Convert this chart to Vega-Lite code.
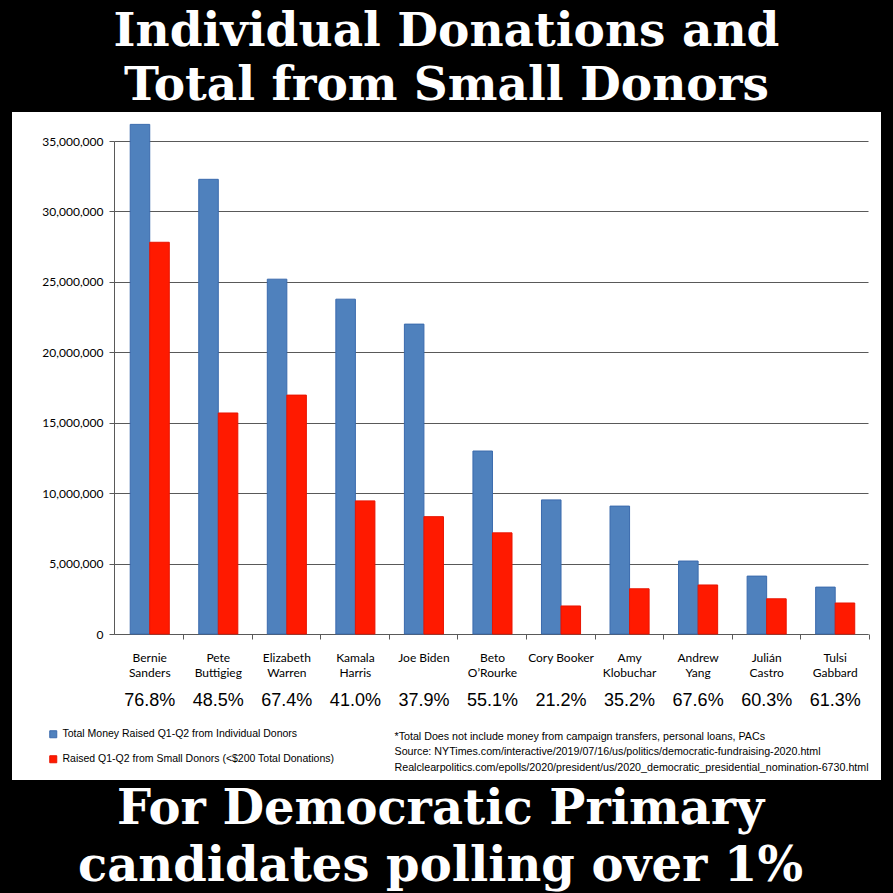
{
  "$schema": "https://vega.github.io/schema/vega-lite/v6.json",
  "width": 869,
  "height": 668,
  "autosize": {"type": "none"},
  "padding": {"left": 12, "top": 112, "right": 12, "bottom": 113},
  "background": "black",
  "config": {"view": {"fill": "white", "stroke": null}},
  "title": {
    "text": ["Individual Donations and", "Total from Small Donors"],
    "color": "white",
    "font": "DejaVu Serif",
    "fontWeight": "bold",
    "fontSize": 47,
    "lineHeight": 54,
    "anchor": "middle",
    "frame": "group",
    "offset": 2
  },
  "datasets": {
    "bars": [
      {"candidate": "Bernie Sanders", "series": "Total Money Raised Q1-Q2 from Individual Donors", "amount": 36180000},
      {"candidate": "Bernie Sanders", "series": "Raised Q1-Q2 from Small Donors (<$200 Total Donations)", "amount": 27810000},
      {"candidate": "Pete Buttigieg", "series": "Total Money Raised Q1-Q2 from Individual Donors", "amount": 32280000},
      {"candidate": "Pete Buttigieg", "series": "Raised Q1-Q2 from Small Donors (<$200 Total Donations)", "amount": 15690000},
      {"candidate": "Elizabeth Warren", "series": "Total Money Raised Q1-Q2 from Individual Donors", "amount": 25190000},
      {"candidate": "Elizabeth Warren", "series": "Raised Q1-Q2 from Small Donors (<$200 Total Donations)", "amount": 16960000},
      {"candidate": "Kamala Harris", "series": "Total Money Raised Q1-Q2 from Individual Donors", "amount": 23770000},
      {"candidate": "Kamala Harris", "series": "Raised Q1-Q2 from Small Donors (<$200 Total Donations)", "amount": 9450000},
      {"candidate": "Joe Biden", "series": "Total Money Raised Q1-Q2 from Individual Donors", "amount": 22000000},
      {"candidate": "Joe Biden", "series": "Raised Q1-Q2 from Small Donors (<$200 Total Donations)", "amount": 8330000},
      {"candidate": "Beto O’Rourke", "series": "Total Money Raised Q1-Q2 from Individual Donors", "amount": 12990000},
      {"candidate": "Beto O’Rourke", "series": "Raised Q1-Q2 from Small Donors (<$200 Total Donations)", "amount": 7180000},
      {"candidate": "Cory Booker", "series": "Total Money Raised Q1-Q2 from Individual Donors", "amount": 9520000},
      {"candidate": "Cory Booker", "series": "Raised Q1-Q2 from Small Donors (<$200 Total Donations)", "amount": 1990000},
      {"candidate": "Amy Klobuchar", "series": "Total Money Raised Q1-Q2 from Individual Donors", "amount": 9080000},
      {"candidate": "Amy Klobuchar", "series": "Raised Q1-Q2 from Small Donors (<$200 Total Donations)", "amount": 3210000},
      {"candidate": "Andrew Yang", "series": "Total Money Raised Q1-Q2 from Individual Donors", "amount": 5180000},
      {"candidate": "Andrew Yang", "series": "Raised Q1-Q2 from Small Donors (<$200 Total Donations)", "amount": 3480000},
      {"candidate": "Julián Castro", "series": "Total Money Raised Q1-Q2 from Individual Donors", "amount": 4110000},
      {"candidate": "Julián Castro", "series": "Raised Q1-Q2 from Small Donors (<$200 Total Donations)", "amount": 2500000},
      {"candidate": "Tulsi Gabbard", "series": "Total Money Raised Q1-Q2 from Individual Donors", "amount": 3330000},
      {"candidate": "Tulsi Gabbard", "series": "Raised Q1-Q2 from Small Donors (<$200 Total Donations)", "amount": 2200000}
    ],
    "pct": [
      {"candidate": "Bernie Sanders", "pct": "76.8%"},
      {"candidate": "Pete Buttigieg", "pct": "48.5%"},
      {"candidate": "Elizabeth Warren", "pct": "67.4%"},
      {"candidate": "Kamala Harris", "pct": "41.0%"},
      {"candidate": "Joe Biden", "pct": "37.9%"},
      {"candidate": "Beto O’Rourke", "pct": "55.1%"},
      {"candidate": "Cory Booker", "pct": "21.2%"},
      {"candidate": "Amy Klobuchar", "pct": "35.2%"},
      {"candidate": "Andrew Yang", "pct": "67.6%"},
      {"candidate": "Julián Castro", "pct": "60.3%"},
      {"candidate": "Tulsi Gabbard", "pct": "61.3%"}
    ]
  },
  "layer": [
    {
      "data": {"name": "bars"},
      "mark": {"type": "bar", "strokeWidth": 1},
      "encoding": {
        "x": {
          "field": "candidate",
          "type": "nominal",
          "sort": ["Bernie Sanders", "Pete Buttigieg", "Elizabeth Warren", "Kamala Harris", "Joe Biden", "Beto O’Rourke", "Cory Booker", "Amy Klobuchar", "Andrew Yang", "Julián Castro", "Tulsi Gabbard"],
          "scale": {"range": [102, 856], "paddingInner": 0.43, "paddingOuter": 0.215, "align": 0.55},
          "axis": {
            "orient": "bottom",
            "offset": -146,
            "labelExpr": "indexof(['Joe Biden','Cory Booker'], datum.value) >= 0 ? datum.label : split(datum.label, ' ')",
            "labelAngle": 0,
            "labelOverlap": false,
            "labelFont": "Lato",
            "labelFontSize": 12,
            "labelColor": "black",
            "labelPadding": 13,
            "labelLineHeight": 15,
            "labelBaseline": "top",
            "tickSize": 5,
            "tickColor": "#595959",
            "tickWidth": 1,
            "bandPosition": 1.37,
            "domainColor": "#595959",
            "domainWidth": 1,
            "grid": false,
            "title": ["*Total Does not include money from campaign transfers, personal loans, PACs", " Source: NYTimes.com/interactive/2019/07/16/us/politics/democratic-fundraising-2020.html", "Realclearpolitics.com/epolls/2020/president/us/2020_democratic_presidential_nomination-6730.html"],
            "titleX": 382,
            "titleY": 105,
            "titleAlign": "left",
            "titleAnchor": "start",
            "titleBaseline": "alphabetic",
            "titleFont": "Liberation Sans",
            "titleFontSize": 10.7,
            "titleFontWeight": "normal",
            "titleLineHeight": 15.5,
            "titleColor": "black"
          }
        },
        "xOffset": {
          "field": "series",
          "type": "nominal",
          "sort": ["Total Money Raised Q1-Q2 from Individual Donors", "Raised Q1-Q2 from Small Donors (<$200 Total Donations)"]
        },
        "y": {
          "field": "amount",
          "type": "quantitative",
          "scale": {"domain": [0, 35000000], "range": [522, 29], "nice": false, "zero": true},
          "axis": {
            "values": [0, 5000000, 10000000, 15000000, 20000000, 25000000, 30000000, 35000000],
            "format": ",d",
            "offset": -102,
            "grid": true,
            "gridColor": "#595959",
            "gridWidth": 1,
            "domainColor": "#595959",
            "tickColor": "#595959",
            "tickSize": 5,
            "labelFont": "Lato",
            "labelFontSize": 12,
            "labelColor": "black",
            "labelPadding": 6,
            "labelOverlap": false,
            "title": ["For Democratic Primary", "candidates polling over 1%"],
            "titleAngle": 0,
            "titleX": 326,
            "titleY": 711,
            "titleAlign": "center",
            "titleAnchor": null,
            "titleBaseline": "alphabetic",
            "titleFont": "DejaVu Serif",
            "titleFontWeight": "bold",
            "titleFontSize": 48,
            "titleLineHeight": 57,
            "titleColor": "white"
          }
        },
        "color": {
          "field": "series",
          "type": "nominal",
          "scale": {
            "domain": ["Total Money Raised Q1-Q2 from Individual Donors", "Raised Q1-Q2 from Small Donors (<$200 Total Donations)"],
            "range": ["#4f81bd", "#ff1a00"]
          },
          "legend": {
            "orient": "none",
            "legendX": 36,
            "legendY": 617,
            "title": null,
            "symbolType": "square",
            "symbolSize": 49,
            "symbolStrokeWidth": 1,
            "labelFont": "Liberation Sans",
            "labelFontSize": 10.5,
            "labelColor": "black",
            "labelLimit": 400,
            "rowPadding": 13,
            "labelOffset": 4,
            "padding": 0
          }
        },
        "stroke": {
          "field": "series",
          "type": "nominal",
          "scale": {
            "domain": ["Total Money Raised Q1-Q2 from Individual Donors", "Raised Q1-Q2 from Small Donors (<$200 Total Donations)"],
            "range": ["#3a6aad", "#e81400"]
          },
          "legend": null
        }
      }
    },
    {
      "data": {"name": "pct"},
      "mark": {"type": "text", "font": "Liberation Sans", "fontSize": 18, "fontWeight": "normal", "color": "black", "baseline": "alphabetic", "align": "center"},
      "encoding": {
        "x": {
          "field": "candidate",
          "type": "nominal",
          "sort": ["Bernie Sanders", "Pete Buttigieg", "Elizabeth Warren", "Kamala Harris", "Joe Biden", "Beto O’Rourke", "Cory Booker", "Amy Klobuchar", "Andrew Yang", "Julián Castro", "Tulsi Gabbard"]
        },
        "y": {"datum": -5110000},
        "text": {"field": "pct", "type": "nominal"}
      }
    }
  ]
}
